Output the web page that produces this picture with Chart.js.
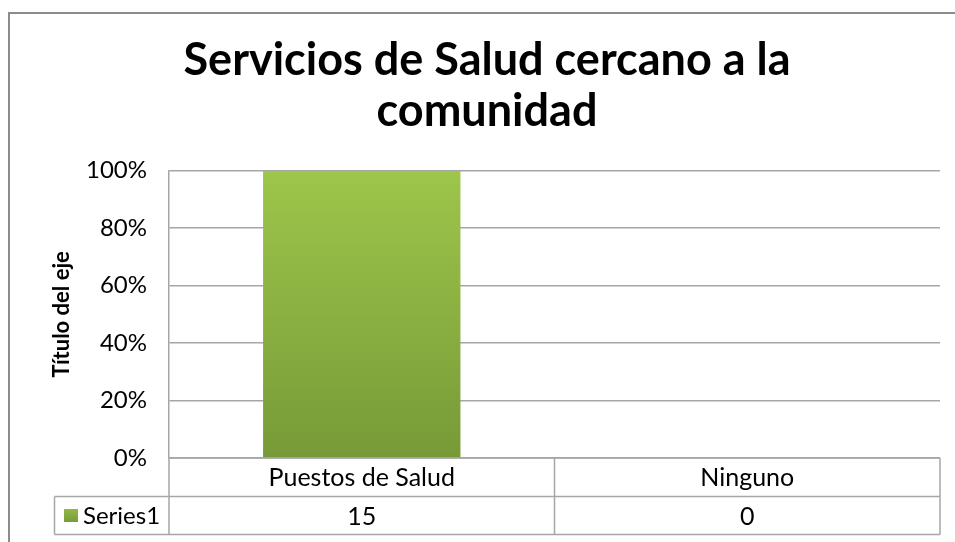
<!DOCTYPE html>
<html>
<head>
<meta charset="utf-8">
<script src="https://cdn.jsdelivr.net/npm/chart.js@4/dist/chart.umd.min.js"></script>
<style>
  html, body { margin: 0; padding: 0; background: #fff; }
  #wrap { position: relative; width: 955px; height: 542px; }
</style>
</head>
<body>
<div id="wrap"><canvas id="chart" width="955" height="542"></canvas></div>
<script>
/* chart data */
const titleLines = ["Servicios de Salud cercano a la", "comunidad"];
const axisTitle = "Título del eje";
const categories = ["Puestos de Salud", "Ninguno"];
const seriesName = "Series1";
const counts = [15, 0];
const percentages = [100, 0];

const FONT = "Lato, Calibri, 'Open Sans', sans-serif";
const LINE = "#a6a6a6";

/* bar gradient, light at the top, darker at the bottom */
function barGradient(context) {
  const area = context.chart.chartArea;
  if (!area) return "#8db443";
  const g = context.chart.ctx.createLinearGradient(0, area.top, 0, area.bottom);
  g.addColorStop(0, "#9dc64b");
  g.addColorStop(1, "#779a37");
  return g;
}

/* outer frame of the chart */
const framePlugin = {
  id: "frame",
  beforeDraw(chart) {
    const ctx = chart.ctx;
    ctx.save();
    ctx.strokeStyle = "#8c8c8c";
    ctx.lineWidth = 2;
    ctx.beginPath();
    ctx.moveTo(9, 542);
    ctx.lineTo(9, 13);
    ctx.lineTo(955, 13);
    ctx.stroke();
    ctx.restore();
  }
};

/* data table under the plot */
const tablePlugin = {
  id: "dataTable",
  afterDraw(chart) {
    const ctx = chart.ctx;
    const x = chart.scales.x;
    const area = chart.chartArea;
    const half = (x.getPixelForValue(1) - x.getPixelForValue(0)) / 2;
    const left = area.left, right = area.right;
    const top = area.bottom;
    const mid = top + 38.5;
    const bottom = top + 76.5;
    const keyLeft = 54.5;

    ctx.save();
    ctx.strokeStyle = LINE;
    ctx.lineWidth = 1.5;
    ctx.beginPath();
    // horizontals
    ctx.moveTo(left, top); ctx.lineTo(right, top);
    ctx.moveTo(keyLeft, mid); ctx.lineTo(right, mid);
    ctx.moveTo(keyLeft, bottom); ctx.lineTo(right, bottom);
    // verticals
    ctx.moveTo(keyLeft, mid); ctx.lineTo(keyLeft, bottom);
    ctx.moveTo(left, top); ctx.lineTo(left, bottom);
    categories.forEach((c, i) => {
      const xr = x.getPixelForValue(i) + half;
      ctx.moveTo(xr, top); ctx.lineTo(xr, bottom);
    });
    ctx.stroke();

    // legend key + series name
    const keyY = (mid + bottom) / 2;
    const kg = ctx.createLinearGradient(0, keyY - 7, 0, keyY + 7);
    kg.addColorStop(0, "#93b947");
    kg.addColorStop(1, "#789a38");
    ctx.fillStyle = kg;
    ctx.fillRect(64, keyY - 6.5, 14, 13);

    ctx.fillStyle = "#000";
    ctx.font = "24px " + FONT;
    ctx.textBaseline = "middle";
    ctx.textAlign = "left";
    ctx.fillText(seriesName, 83, keyY + 1);

    // values row
    ctx.textAlign = "center";
    ctx.font = "25px " + FONT;
    counts.forEach((v, i) => {
      ctx.fillText(String(v), x.getPixelForValue(i), keyY + 1);
    });
    ctx.restore();
  }
};

const config = {
  type: "bar",
  data: {
    labels: categories,
    datasets: [
      {
        label: seriesName,
        data: percentages,
        backgroundColor: barGradient,
        borderWidth: 0,
        categoryPercentage: 1,
        barPercentage: 0.512,
      },
    ],
  },
  options: {
    responsive: false,
    animation: false,
    layout: {
      padding: { left: 34, right: 15, top: 0, bottom: 44 },
    },
    plugins: {
      legend: { display: false },
      tooltip: { enabled: false },
      title: {
        display: true,
        text: titleLines,
        color: "#000",
        font: { family: FONT, size: 45, weight: "bold", lineHeight: 1.13 },
        padding: { top: 35, bottom: 34 },
      },
    },
    scales: {
      x: {
        grid: { display: false, drawTicks: false },
        border: { display: false },
        ticks: {
          color: "#000",
          font: { family: FONT, size: 25 },
          padding: 5,
        },
      },
      y: {
        min: 0,
        max: 100,
        afterFit(scale) { scale.width = 135; },
        ticks: {
          stepSize: 20,
          color: "#000",
          font: { family: FONT, size: 24 },
          padding: 22,
          callback: (v) => v + "%",
        },
        grid: { color: LINE, lineWidth: 1.5, drawTicks: false },
        border: { color: LINE, width: 1.5 },
        title: {
          display: true,
          text: axisTitle,
          color: "#000",
          font: { family: FONT, size: 22, weight: "bold" },
          padding: { top: 15, bottom: 0 },
        },
      },
    },
  },
  plugins: [framePlugin, tablePlugin],
};

const myChart = new Chart(document.getElementById("chart"), config);
</script>
</body>
</html>
